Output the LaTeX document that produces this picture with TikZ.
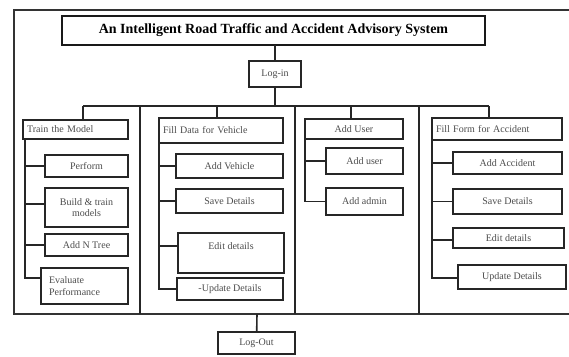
\documentclass[tikz,border=0pt]{standalone}
\usepackage{fontspec}
\setmainfont{Liberation Serif}
\begin{document}
\begin{tikzpicture}[x=1pt, y=-1pt,
  inner sep=0pt, outer sep=0pt,%
  frame/.style={line width=1.4pt,black!80},
  link/.style={line width=1.6pt,black!85},
  box/.style={draw=black!85,line width=1.8pt,fill=white,align=center,
    font=\fontsize{10}{11.5}\selectfont,text=black!70},
  head/.style={box,align=left,inner xsep=4pt},
  title box/.style={draw=black!90,line width=2pt,fill=white,
    font=\fontsize{14}{16}\selectfont\bfseries}]

\useasboundingbox (0,0) rectangle (569,356);

\draw[frame] (569,10) -- (14,10) -- (14,314) -- (569,314);

\node[title box,minimum width=423,minimum height=29] (title) at (273.5,30.5) {An Intelligent Road Traffic and Accident Advisory System};
\node[box,minimum width=52,minimum height=26] (login) at (275,74) {Log-in};

\coordinate (bus l) at (83,106);
\coordinate (bus r) at (489,106);
\coordinate (drop2) at (217,106);
\coordinate (drop3) at (351,106);
\coordinate (out) at (257,314);

\draw[link] (title.south -| login) -- (login);
\draw[link] (login) -- (login |- bus l);
\draw[link] (bus l) -- (bus r);

\draw[link] (140,106) -- (140,314);
\draw[link] (295,106) -- (295,314);
\draw[link] (419,106) -- (419,314);

% column heads
\node[head,text width=97,minimum height=19] (h1) at (75.5,129.5) {Train the Model};
\node[head,text width=116,minimum height=25] (h2) at (221,130.5) {Fill Data for Vehicle};
\node[box,minimum width=98,minimum height=20] (h3) at (354,129) {Add User};
\node[head,text width=122,minimum height=22] (h4) at (497,129) {Fill Form for Accident};

\draw[link] (bus l) -- (bus l |- h1.north);
\draw[link] (drop2) -- (drop2 |- h2.north);
\draw[link] (drop3) -- (drop3 |- h3.north);
\draw[link] (bus r) -- (bus r |- h4.north);

\node[box,minimum width=83,minimum height=22] (s11) at (86.5,166) {Perform};
\node[box,minimum width=83,minimum height=39] (s12) at (86.5,207.5) {Build \& train\\models};
\node[box,minimum width=83,minimum height=22] (s13) at (86.5,245) {Add N Tree};
\node[head,inner xsep=8pt,text width=71,minimum height=36] (s14) at (84.5,286) {Evaluate\\Performance};

\node[box,minimum width=107,minimum height=24] (s21) at (229.5,166) {Add Vehicle};
\node[box,minimum width=107,minimum height=24] (s22) at (229.5,201) {Save Details};
\node[box,minimum width=106,text height=16,text depth=24] (s23) at (231,253) {Edit details};
\node[box,minimum width=106,minimum height=22] (s24) at (230,289) {-Update Details};

\node[box,minimum width=77,minimum height=26] (s31) at (364.5,161) {Add user};
\node[box,minimum width=77,minimum height=27] (s32) at (364.5,201.5) {Add admin};

\node[box,minimum width=109,minimum height=22] (s41) at (507.5,163) {Add Accident};
\node[box,minimum width=109,minimum height=25] (s42) at (507.5,201.5) {Save Details};
\node[box,minimum width=111,minimum height=20] (s43) at (508.5,238) {Edit details};
\node[box,minimum width=108,minimum height=24] (s44) at (512,277) {Update Details};

\node[box,minimum width=77,minimum height=22] (logout) at (256.5,343) {Log-Out};

\draw[link] ([xshift=2pt]h1.south west) |- ([yshift=3.5pt]s12.west);
\draw[link] ([xshift=2pt]h1.south west) |- (s11);
\draw[link] ([xshift=2pt]h1.south west) |- (s13);
\draw[link] ([xshift=2pt]h1.south west) |- ([yshift=8pt]s14.west);

\draw[link] (h2.south west) |- (s21);
\draw[link] (h2.south west) |- (s22);
\draw[link] (h2.south west) |- ([yshift=7pt]s23.west);
\draw[link] (h2.south west) |- (s24);

\draw[link] (h3.south west) |- (s31);
\draw[link] (h3.south west) |- (s32);

\draw[link] (h4.south west) |- (s41);
\draw[link] (h4.south west) |- (s42);
\draw[link] (h4.south west) |- ([yshift=-2pt]s43.west);
\draw[link] (h4.south west) |- ([yshift=-1pt]s44.west);

\draw[link] (out) -- (logout);

\end{tikzpicture}
\end{document}
